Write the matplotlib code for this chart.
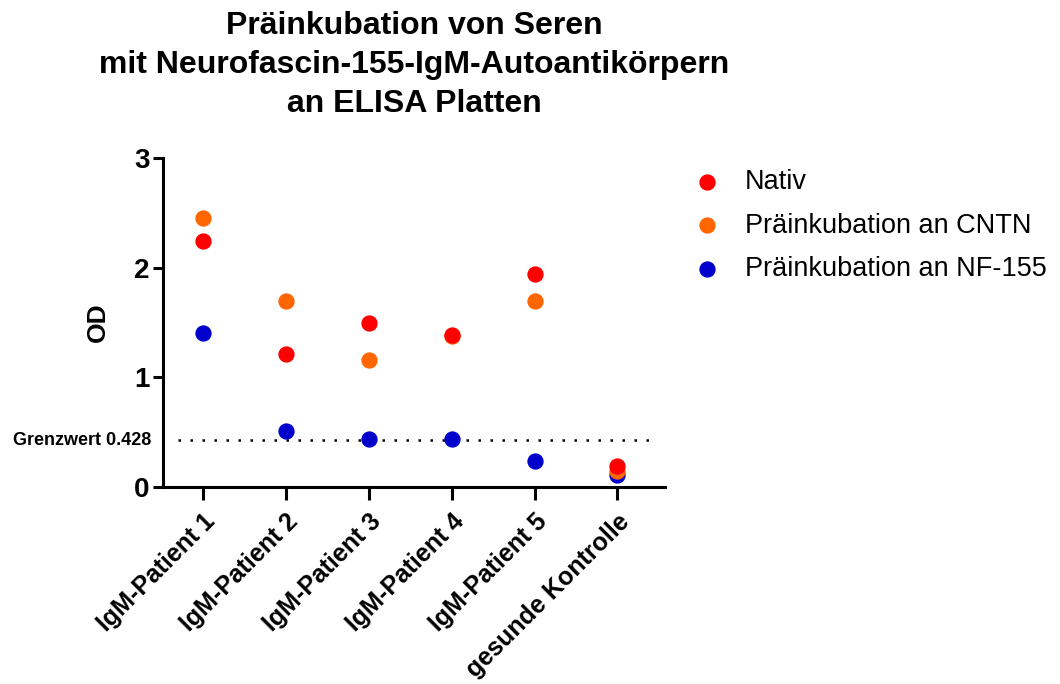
import matplotlib
matplotlib.use("Agg")
import matplotlib.pyplot as plt

plt.rcParams['font.family'] = ['Liberation Sans', 'DejaVu Sans']

# Daten
kategorien = ['IgM-Patient 1', 'IgM-Patient 2', 'IgM-Patient 3',
              'IgM-Patient 4', 'IgM-Patient 5', 'gesunde Kontrolle']
nativ = [2.24, 1.21, 1.50, 1.39, 1.94, 0.19]
cntn = [2.45, 1.70, 1.16, 1.38, 1.70, 0.15]
nf155 = [1.40, 0.51, 0.44, 0.44, 0.24, 0.11]
grenzwert = 0.428

fig = plt.figure(figsize=(10.6, 6.84), dpi=100)
ax = fig.add_axes([0.154, 0.288, 0.473, 0.481])

x = range(len(kategorien))
ax.scatter(x, nf155, s=115, color='#0000CC', label='Präinkubation an NF-155', zorder=3)
ax.scatter(x, cntn, s=115, color='#FF6600', label='Präinkubation an CNTN', zorder=4)
ax.scatter(x, nativ, s=115, color='#FF0000', label='Nativ', zorder=5)

# Grenzwert
ax.axhline(grenzwert, xmin=0.03, xmax=0.985, color='black', linestyle=(0, (1, 3.8)),
           linewidth=1.8, zorder=2)
ax.text(-0.63, grenzwert, 'Grenzwert 0.428', ha='right', va='center',
        fontsize=13, fontweight='bold')

ax.set_xlim(-0.48, 5.57)
ax.set_ylim(0, 3)
ax.set_yticks([0, 1, 2, 3])
ax.set_xticks(list(x))
ax.set_xticklabels(kategorien, rotation=45, ha='right', rotation_mode='anchor',
                   fontsize=18, fontweight='bold')
for lab in ax.get_yticklabels():
    lab.set_fontsize(20)
    lab.set_fontweight('bold')

ax.spines['top'].set_visible(False)
ax.spines['right'].set_visible(False)
ax.spines['left'].set_linewidth(2.2)
ax.spines['bottom'].set_linewidth(2.2)
ax.tick_params(axis='x', length=9, width=2.2, pad=7)
ax.tick_params(axis='y', length=7, width=2.2, pad=3)

ax.set_ylabel('OD', fontsize=19, fontweight='bold', labelpad=17)
ax.set_title('Präinkubation von Seren\nmit Neurofascin-155-IgM-Autoantikörpern\nan ELISA Platten',
             fontsize=23, fontweight='bold', pad=33, linespacing=1.4)

handles, labels = ax.get_legend_handles_labels()
order = [2, 1, 0]
fig.legend([handles[i] for i in order], [labels[i] for i in order],
           loc='upper left', bbox_to_anchor=(0.654, 0.753), frameon=False,
           fontsize=19.5, handlelength=1.0, handletextpad=0.9, labelspacing=0.65,
           borderpad=0, borderaxespad=0)

plt.savefig('out.png', dpi=100)
